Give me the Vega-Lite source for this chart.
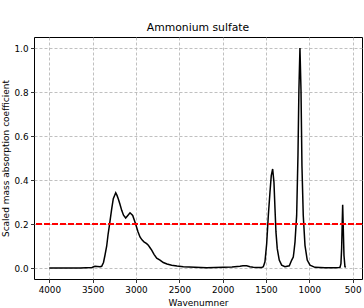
{
  "$schema": "https://vega.github.io/schema/vega-lite/v6.json",
  "autosize": {"type": "none"},
  "padding": {"left": 34, "top": 37, "right": 2, "bottom": 29},
  "width": 328,
  "height": 242,
  "background": "white",
  "title": {"text": "Ammonium sulfate", "font": "DejaVu Sans", "fontSize": 10.8, "fontWeight": "normal", "color": "black", "offset": 4},
  "config": {
    "view": {"stroke": "black", "strokeWidth": 1},
    "axis": {
      "labelFont": "DejaVu Sans", "labelFontSize": 8.8, "labelColor": "black",
      "titleFont": "DejaVu Sans", "titleFontSize": 9, "titleFontWeight": "normal", "titleColor": "black",
      "tickColor": "black", "tickSize": 3.5, "tickWidth": 0.8, "domain": false,
      "gridColor": "#b0b0b0", "gridDash": [3, 2], "gridWidth": 0.8, "labelPadding": 2.5
    }
  },
  "data": {"values": [
    {"wn": 4000, "v": 0}, {"wn": 3646, "v": 0}, {"wn": 3508, "v": 0.002}, {"wn": 3473, "v": 0.008},
    {"wn": 3415, "v": 0.006}, {"wn": 3396, "v": 0.008}, {"wn": 3375, "v": 0.025}, {"wn": 3358, "v": 0.058},
    {"wn": 3338, "v": 0.10}, {"wn": 3323, "v": 0.15}, {"wn": 3308, "v": 0.19}, {"wn": 3280, "v": 0.27},
    {"wn": 3262, "v": 0.315}, {"wn": 3234, "v": 0.342}, {"wn": 3219, "v": 0.33}, {"wn": 3204, "v": 0.314},
    {"wn": 3185, "v": 0.29}, {"wn": 3165, "v": 0.262}, {"wn": 3144, "v": 0.24}, {"wn": 3119, "v": 0.227},
    {"wn": 3092, "v": 0.24}, {"wn": 3069, "v": 0.251}, {"wn": 3038, "v": 0.239}, {"wn": 3017, "v": 0.215},
    {"wn": 3000, "v": 0.194}, {"wn": 2977, "v": 0.165}, {"wn": 2954, "v": 0.141}, {"wn": 2931, "v": 0.128},
    {"wn": 2908, "v": 0.119}, {"wn": 2877, "v": 0.111}, {"wn": 2858, "v": 0.104}, {"wn": 2838, "v": 0.092},
    {"wn": 2819, "v": 0.081}, {"wn": 2792, "v": 0.062}, {"wn": 2761, "v": 0.045}, {"wn": 2723, "v": 0.036},
    {"wn": 2685, "v": 0.025}, {"wn": 2642, "v": 0.018}, {"wn": 2588, "v": 0.013}, {"wn": 2527, "v": 0.009},
    {"wn": 2454, "v": 0.006}, {"wn": 2319, "v": 0.003}, {"wn": 2184, "v": 0.001}, {"wn": 2089, "v": 0.002},
    {"wn": 1993, "v": 0.003}, {"wn": 1892, "v": 0.004}, {"wn": 1800, "v": 0.008}, {"wn": 1766, "v": 0.010},
    {"wn": 1723, "v": 0.010}, {"wn": 1685, "v": 0.006}, {"wn": 1647, "v": 0.003}, {"wn": 1592, "v": 0.002},
    {"wn": 1550, "v": 0.002}, {"wn": 1531, "v": 0.006}, {"wn": 1523, "v": 0.015}, {"wn": 1512, "v": 0.028},
    {"wn": 1492, "v": 0.11}, {"wn": 1473, "v": 0.239}, {"wn": 1454, "v": 0.344}, {"wn": 1439, "v": 0.42},
    {"wn": 1423, "v": 0.45}, {"wn": 1408, "v": 0.39}, {"wn": 1396, "v": 0.269}, {"wn": 1385, "v": 0.164},
    {"wn": 1370, "v": 0.088}, {"wn": 1347, "v": 0.036}, {"wn": 1319, "v": 0.013}, {"wn": 1281, "v": 0.006},
    {"wn": 1231, "v": 0.01}, {"wn": 1203, "v": 0.036}, {"wn": 1185, "v": 0.05}, {"wn": 1177, "v": 0.075},
    {"wn": 1165, "v": 0.119}, {"wn": 1154, "v": 0.19}, {"wn": 1146, "v": 0.239}, {"wn": 1131, "v": 0.51},
    {"wn": 1120, "v": 0.81}, {"wn": 1108, "v": 1.0}, {"wn": 1096, "v": 0.81}, {"wn": 1085, "v": 0.465},
    {"wn": 1070, "v": 0.24}, {"wn": 1050, "v": 0.103}, {"wn": 1024, "v": 0.036}, {"wn": 992, "v": 0.013},
    {"wn": 935, "v": 0.003}, {"wn": 819, "v": 0.001}, {"wn": 704, "v": 0.001}, {"wn": 658, "v": 0.002},
    {"wn": 646, "v": 0.003}, {"wn": 635, "v": 0.02}, {"wn": 627, "v": 0.088}, {"wn": 620, "v": 0.209},
    {"wn": 615, "v": 0.287}, {"wn": 608, "v": 0.179}, {"wn": 600, "v": 0.058}, {"wn": 589, "v": 0.006},
    {"wn": 580, "v": 0.003}
  ]},
  "layer": [
    {
      "mark": {"type": "line", "color": "black", "strokeWidth": 1.5, "clip": true},
      "encoding": {
        "x": {"field": "wn", "type": "quantitative", "sort": null,
              "scale": {"domain": [392, 4177], "reverse": true, "nice": false, "zero": false},
              "axis": {"title": "Wavenumner", "values": [4000, 3500, 3000, 2500, 2000, 1500, 1000, 500], "format": "d", "titlePadding": 4.5}},
        "y": {"field": "v", "type": "quantitative",
              "scale": {"domain": [-0.05, 1.05], "nice": false, "zero": false},
              "axis": {"title": "Scaled mass absorption coefficient", "values": [0, 0.2, 0.4, 0.6, 0.8, 1.0], "format": ".1f", "titlePadding": 3.5}},
        "order": {"field": "wn", "sort": "descending"}
      }
    },
    {
      "mark": {"type": "rule", "color": "#ff0000", "strokeWidth": 1.3, "strokeDash": [5.5, 2.5]},
      "encoding": {"y": {"datum": 0.2}}
    }
  ]
}
